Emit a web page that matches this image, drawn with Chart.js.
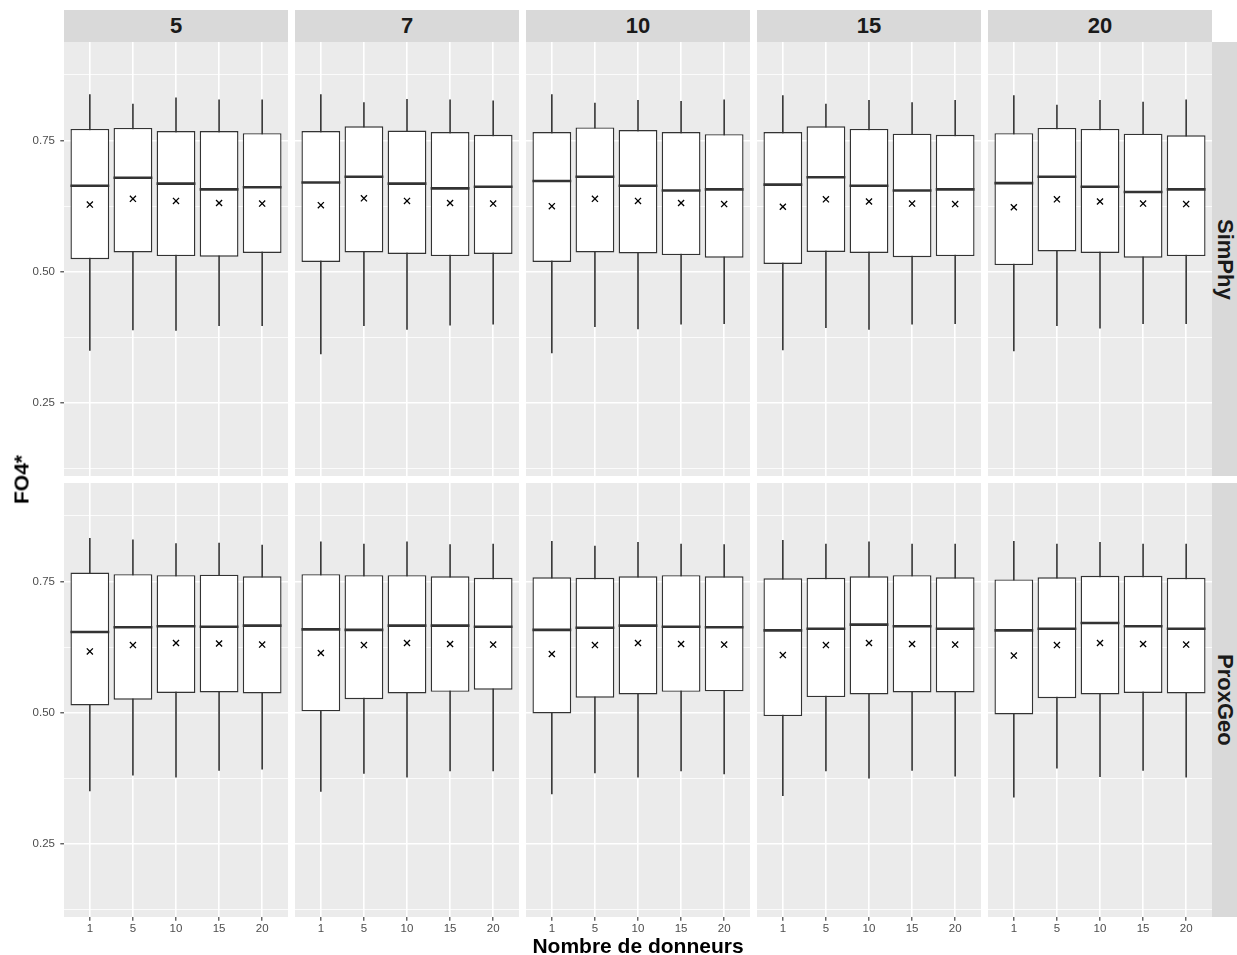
<!DOCTYPE html>
<html><head><meta charset="utf-8">
<script src="https://cdn.jsdelivr.net/npm/chart.js@4.4.0/dist/chart.umd.min.js"></script>
<style>
html,body{margin:0;padding:0;background:#fff;}
body{width:1237px;height:955px;position:relative;overflow:hidden;font-family:"Liberation Sans",Arial,Helvetica,sans-serif;}
canvas{position:absolute;}
.strip{position:absolute;background:#D9D9D9;color:#1A1A1A;font-weight:bold;font-size:22px;display:flex;align-items:center;justify-content:center;}
.vstrip span{writing-mode:vertical-rl;}
.title{position:absolute;font-weight:bold;font-size:21px;line-height:21px;color:#000;text-align:center;white-space:nowrap;}
</style>
</head><body>
<script>
// ---------- data ----------
const facets = ['5','7','10','15','20'];
const donneurs = ['1','5','10','15','20'];
const methods = ['SimPhy','ProxGeo'];
const yTickValues = [0.25, 0.5, 0.75];
const yTickLabels = ['0.25','0.50','0.75'];
const yMinorValues = [0.125, 0.375, 0.625, 0.875];
const yMin = 0.1115, yMax = 0.9375;

// SimPhy: one row per facet (5,7,10,15,20), one value per donneurs (1,5,10,15,20)
const simphyMin = [
 [0.350,0.389,0.388,0.397,0.397],
 [0.343,0.397,0.390,0.398,0.400],
 [0.345,0.395,0.391,0.400,0.401],
 [0.351,0.393,0.390,0.400,0.401],
 [0.349,0.397,0.392,0.401,0.401]];
const simphyQ1 = [
 [0.524,0.537,0.530,0.529,0.536],
 [0.519,0.537,0.534,0.530,0.534],
 [0.519,0.537,0.535,0.532,0.527],
 [0.515,0.538,0.536,0.528,0.530],
 [0.513,0.539,0.536,0.527,0.530]];
const simphyMedian = [
 [0.664,0.679,0.668,0.657,0.661],
 [0.670,0.681,0.668,0.659,0.662],
 [0.673,0.681,0.664,0.655,0.657],
 [0.666,0.680,0.664,0.655,0.657],
 [0.669,0.681,0.662,0.652,0.657]];
const simphyQ3 = [
 [0.772,0.774,0.768,0.768,0.764],
 [0.768,0.777,0.769,0.766,0.761],
 [0.766,0.775,0.770,0.766,0.762],
 [0.766,0.777,0.772,0.763,0.761],
 [0.764,0.774,0.772,0.763,0.760]];
const simphyMax = [
 [0.838,0.820,0.832,0.828,0.828],
 [0.838,0.823,0.829,0.828,0.826],
 [0.838,0.822,0.827,0.825,0.828],
 [0.836,0.820,0.827,0.823,0.827],
 [0.836,0.818,0.827,0.824,0.828]];
const simphyMean = [
 [0.628,0.639,0.635,0.631,0.630],
 [0.627,0.640,0.635,0.631,0.630],
 [0.625,0.639,0.635,0.631,0.629],
 [0.624,0.638,0.634,0.630,0.629],
 [0.623,0.638,0.634,0.630,0.629]];

// ProxGeo
const proxMin = [
 [0.351,0.381,0.377,0.390,0.392],
 [0.350,0.384,0.377,0.389,0.389],
 [0.345,0.385,0.377,0.389,0.383],
 [0.342,0.389,0.375,0.390,0.379],
 [0.339,0.394,0.378,0.390,0.377]];
const proxQ1 = [
 [0.514,0.525,0.538,0.539,0.537],
 [0.503,0.526,0.537,0.540,0.544],
 [0.499,0.529,0.535,0.540,0.541],
 [0.494,0.530,0.535,0.539,0.539],
 [0.497,0.528,0.535,0.538,0.537]];
const proxMedian = [
 [0.654,0.663,0.665,0.664,0.666],
 [0.659,0.658,0.666,0.666,0.664],
 [0.658,0.662,0.666,0.664,0.663],
 [0.657,0.660,0.668,0.665,0.660],
 [0.657,0.660,0.671,0.665,0.660]];
const proxQ3 = [
 [0.767,0.764,0.762,0.763,0.760],
 [0.764,0.762,0.762,0.760,0.757],
 [0.758,0.757,0.760,0.762,0.760],
 [0.756,0.757,0.760,0.762,0.758],
 [0.754,0.758,0.761,0.761,0.757]];
const proxMax = [
 [0.833,0.830,0.823,0.824,0.820],
 [0.826,0.822,0.826,0.821,0.822],
 [0.827,0.818,0.825,0.822,0.821],
 [0.829,0.822,0.826,0.822,0.822],
 [0.827,0.822,0.825,0.822,0.822]];
const proxMean = [
 [0.617,0.629,0.633,0.632,0.630],
 [0.614,0.629,0.633,0.631,0.630],
 [0.612,0.629,0.633,0.631,0.630],
 [0.610,0.629,0.633,0.631,0.630],
 [0.609,0.629,0.633,0.631,0.630]];

// ---------- layout ----------
const FONT = '"Liberation Sans", Arial, Helvetica, sans-serif';
Chart.defaults.font.family = FONT;
const panelX = [64, 295, 526, 757, 988];
const panelW = 224;
const rowY = [42, 483];
const panelH = 434;
const axisW = 64, axisH = 30;

const stats = [
  {min: simphyMin, q1: simphyQ1, med: simphyMedian, q3: simphyQ3, max: simphyMax, mean: simphyMean},
  {min: proxMin, q1: proxQ1, med: proxMedian, q3: proxQ3, max: proxMax, mean: proxMean}
];

const panelBg = {
  id: 'panelBg',
  beforeDraw(chart) {
    const {ctx, chartArea: a} = chart;
    ctx.save();
    ctx.fillStyle = '#EBEBEB';
    ctx.fillRect(a.left, a.top, a.right - a.left, a.bottom - a.top);
    ctx.restore();
  }
};

const xPos = donneurs.map((d, i) => i + 1);
const yGridValues = yTickValues.concat(yMinorValues).sort((a, b) => a - b);

function makePanel(r, c) {
  const s = stats[r];
  const left = c === 0 ? 0 : panelX[c];
  const width = panelW + (c === 0 ? axisW : 0);
  const top = rowY[r];
  const height = panelH + (r === 1 ? axisH : 0);
  const cv = document.createElement('canvas');
  cv.width = width; cv.height = height;
  cv.style.left = left + 'px'; cv.style.top = top + 'px';
  cv.style.width = width + 'px'; cv.style.height = height + 'px';
  document.body.appendChild(cv);

  const isMajor = v => yTickValues.some(t => Math.abs(t - v) < 1e-9);

  new Chart(cv.getContext('2d'), {
    type: 'bar',
    data: {
      datasets: [
        {
          type: 'bar', label: 'whisker',
          data: xPos.map((x, i) => ({x: x, y: [s.min[c][i], s.max[c][i]]})),
          backgroundColor: '#333333', barThickness: 1.6, inflateAmount: 0,
          grouped: false, order: 4
        },
        {
          type: 'bar', label: 'box',
          data: xPos.map((x, i) => ({x: x, y: [s.q1[c][i], s.q3[c][i]]})),
          backgroundColor: '#FFFFFF', borderColor: '#333333', borderWidth: 1.4,
          borderSkipped: false, barPercentage: 0.9, categoryPercentage: 1,
          inflateAmount: 0, grouped: false, order: 3
        },
        {
          type: 'line', label: 'median',
          data: xPos.map((x, i) => ({x: x, y: s.med[c][i]})),
          showLine: false, pointStyle: 'line', pointRadius: 19.4,
          pointBorderWidth: 2.6, pointBorderColor: '#333333', pointBackgroundColor: '#333333',
          order: 2
        },
        {
          type: 'line', label: 'mean',
          data: xPos.map((x, i) => ({x: x, y: s.mean[c][i]})),
          showLine: false, pointStyle: 'crossRot', pointRadius: 4.3,
          pointBorderWidth: 1.3, pointBorderColor: '#000000', pointBackgroundColor: '#000000',
          order: 1
        }
      ]
    },
    options: {
      responsive: false, animation: false, events: [], devicePixelRatio: 1,
      layout: {padding: 0, autoPadding: false},
      plugins: {legend: {display: false}, tooltip: {enabled: false}, title: {display: false}},
      scales: {
        x: {
          type: 'linear', min: 0.4, max: 5.6, offset: false, position: 'bottom',
          afterBuildTicks: sc => { sc.ticks = xPos.map(v => ({value: v})); },
          afterFit: sc => { sc.height = r === 1 ? axisH : 0; sc.paddingLeft = 0; sc.paddingRight = 0; },
          grid: {offset: false, color: '#FFFFFF', lineWidth: 1.6, drawTicks: r === 1,
                 tickLength: 3.7, tickColor: '#333333', tickWidth: 1.1},
          border: {display: false},
          ticks: {display: r === 1, padding: 1.2, color: '#4D4D4D', font: {family: FONT, size: 11.5},
                  maxRotation: 0, autoSkip: false,
                  callback: v => donneurs[Math.round(v) - 1]}
        },
        y: {
          type: 'linear', min: yMin, max: yMax, beginAtZero: false, position: 'left',
          afterBuildTicks: sc => { sc.ticks = yGridValues.map(v => ({value: v})); },
          afterFit: sc => { sc.width = c === 0 ? axisW : 0; sc.paddingTop = 0; sc.paddingBottom = 0; },
          grid: {color: '#FFFFFF',
                 lineWidth: ctx => (ctx.tick && isMajor(ctx.tick.value)) ? 1.6 : 0.8,
                 drawTicks: c === 0, tickLength: 3.7,
                 tickColor: ctx => (ctx.tick && isMajor(ctx.tick.value)) ? '#333333' : 'rgba(0,0,0,0)',
                 tickWidth: 1.1},
          border: {display: false},
          ticks: {display: c === 0, padding: 5.3, color: '#4D4D4D', font: {family: FONT, size: 11.5},
                  autoSkip: false,
                  callback: v => { const k = yTickValues.findIndex(t => Math.abs(t - v) < 1e-9); return k >= 0 ? yTickLabels[k] : ''; }}
        }
      }
    },
    plugins: [panelBg]
  });
}

for (let r = 0; r < 2; r++) for (let c = 0; c < 5; c++) makePanel(r, c);

// strips
facets.forEach((f, c) => {
  const d = document.createElement('div');
  d.className = 'strip';
  d.style.left = panelX[c] + 'px'; d.style.top = '10px';
  d.style.width = panelW + 'px'; d.style.height = (rowY[0] - 10) + 'px';
  d.textContent = f;
  document.body.appendChild(d);
});
methods.forEach((m, r) => {
  const d = document.createElement('div');
  d.className = 'strip vstrip';
  d.style.left = '1212px'; d.style.top = rowY[r] + 'px';
  d.style.width = '25px'; d.style.height = panelH + 'px';
  const sp = document.createElement('span'); sp.textContent = m;
  d.appendChild(sp);
  document.body.appendChild(d);
});

// axis titles
const xt = document.createElement('div');
xt.className = 'title';
xt.style.left = '438px'; xt.style.width = '400px'; xt.style.top = '935px';
xt.textContent = 'Nombre de donneurs';
document.body.appendChild(xt);

const yt = document.createElement('div');
yt.className = 'title';
yt.style.left = (21 - 50) + 'px'; yt.style.width = '100px'; yt.style.top = (479 - 10.5) + 'px';
yt.style.height = '21px';
yt.style.transform = 'rotate(-90deg)';
yt.textContent = 'FO4*';
document.body.appendChild(yt);
</script>
</body></html>
